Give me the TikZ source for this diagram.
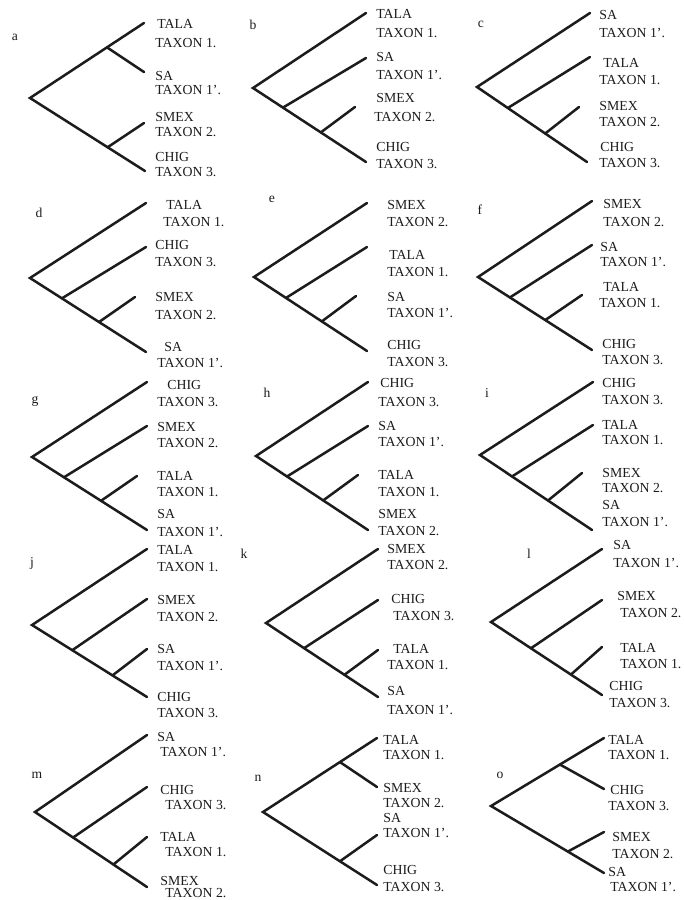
\documentclass[tikz,border=0pt]{standalone}
\usepackage{fontspec}
\setmainfont{Liberation Serif}
\usetikzlibrary{calc}
\definecolor{ink}{RGB}{28,28,28}
\newcommand\lab[4]{\node[tl] (#1) at (#2,#3) {#4};}
\begin{document}
\begin{tikzpicture}[x=0.5pt,y=-0.5pt,
  br/.style={draw=ink,line width=1.25pt,line cap=round},
  tl/.style={anchor=west,inner sep=0pt,text=ink,font=\fontsize{6.9}{7.5}\selectfont,text height=4.5pt,text depth=0pt},
  pl/.style={inner sep=0pt,text=ink,font=\fontsize{6.8}{7.5}\selectfont}]
\useasboundingbox (0,0) rectangle (684,900);
\clip (0,0) rectangle (684,900);
\fill[white] (0,0) rectangle (684,900);
% ---------- tree coordinates ----------
% a
\coordinate (aR) at (30,98);  \coordinate (aT1) at (144,23); \coordinate (aT2) at (144,72);
\coordinate (aT3) at (144,123); \coordinate (aT4) at (145,171);
\coordinate (aN1) at ($(aR)!0.675!(aT1)$); \coordinate (aN2) at ($(aR)!0.675!(aT4)$);
% b
\coordinate (bR) at (253,88); \coordinate (bT1) at (366,13); \coordinate (bT2) at (366,58);
\coordinate (bT3) at (355,107); \coordinate (bT4) at (366,162);
\coordinate (bN1) at ($(bR)!0.265!(bT4)$); \coordinate (bN2) at ($(bR)!0.60!(bT4)$);
% c
\coordinate (cR) at (477,87); \coordinate (cT1) at (590,13); \coordinate (cT2) at (590,57);
\coordinate (cT3) at (579,107); \coordinate (cT4) at (587,162);
\coordinate (cN1) at ($(cR)!0.28!(cT4)$); \coordinate (cN2) at ($(cR)!0.62!(cT4)$);
% d
\coordinate (dR) at (30,278); \coordinate (dT1) at (146,203); \coordinate (dT2) at (146,247);
\coordinate (dT3) at (135,297); \coordinate (dT4) at (146,352);
\coordinate (dN1) at ($(dR)!0.275!(dT4)$); \coordinate (dN2) at ($(dR)!0.595!(dT4)$);
% e
\coordinate (eR) at (254,277); \coordinate (eT1) at (367,203); \coordinate (eT2) at (367,247);
\coordinate (eT3) at (356,296); \coordinate (eT4) at (367,351);
\coordinate (eN1) at ($(eR)!0.283!(eT4)$); \coordinate (eN2) at ($(eR)!0.60!(eT4)$);
% f
\coordinate (fR) at (478,277); \coordinate (fT1) at (592,201); \coordinate (fT2) at (592,245);
\coordinate (fT3) at (582,295); \coordinate (fT4) at (592,350);
\coordinate (fN1) at ($(fR)!0.28!(fT4)$); \coordinate (fN2) at ($(fR)!0.59!(fT4)$);
% g
\coordinate (gR) at (32,457); \coordinate (gT1) at (147,382); \coordinate (gT2) at (147,426);
\coordinate (gT3) at (137,476); \coordinate (gT4) at (147,530);
\coordinate (gN1) at ($(gR)!0.278!(gT4)$); \coordinate (gN2) at ($(gR)!0.60!(gT4)$);
% h
\coordinate (hR) at (256,456); \coordinate (hT1) at (368,382); \coordinate (hT2) at (368,426);
\coordinate (hT3) at (358,475); \coordinate (hT4) at (368,530);
\coordinate (hN1) at ($(hR)!0.277!(hT4)$); \coordinate (hN2) at ($(hR)!0.60!(hT4)$);
% i
\coordinate (iR) at (480,455); \coordinate (iT1) at (593,382); \coordinate (iT2) at (593,425);
\coordinate (iT3) at (582,473); \coordinate (iT4) at (592,530);
\coordinate (iN1) at ($(iR)!0.286!(iT4)$); \coordinate (iN2) at ($(iR)!0.607!(iT4)$);
% j
\coordinate (jR) at (32,625); \coordinate (jT1) at (147,549); \coordinate (jT2) at (147,599);
\coordinate (jT3) at (147,649); \coordinate (jT4) at (147,697);
\coordinate (jN1) at ($(jR)!0.35!(jT4)$); \coordinate (jN2) at ($(jR)!0.70!(jT4)$);
% k
\coordinate (kR) at (266,623); \coordinate (kT1) at (378,549); \coordinate (kT2) at (378,600);
\coordinate (kT3) at (378,650); \coordinate (kT4) at (378,697);
\coordinate (kN1) at ($(kR)!0.34!(kT4)$); \coordinate (kN2) at ($(kR)!0.70!(kT4)$);
% l
\coordinate (lR) at (491,622); \coordinate (lT1) at (602,549); \coordinate (lT2) at (602,600);
\coordinate (lT3) at (602,647); \coordinate (lT4) at (602,695);
\coordinate (lN1) at ($(lR)!0.36!(lT4)$); \coordinate (lN2) at ($(lR)!0.72!(lT4)$);
% m
\coordinate (mR) at (35,812); \coordinate (mT1) at (147,735); \coordinate (mT2) at (147,787);
\coordinate (mT3) at (147,837); \coordinate (mT4) at (147,887);
\coordinate (mN1) at ($(mR)!0.34!(mT4)$); \coordinate (mN2) at ($(mR)!0.70!(mT4)$);
% n
\coordinate (nR) at (263,812); \coordinate (nT1) at (377,738); \coordinate (nT2) at (377,787);
\coordinate (nT3) at (377,835); \coordinate (nT4) at (377,885);
\coordinate (nN1) at ($(nR)!0.675!(nT1)$); \coordinate (nN2) at ($(nR)!0.675!(nT4)$);
% o
\coordinate (oR) at (491,806); \coordinate (oT1) at (604,738); \coordinate (oT2) at (604,789);
\coordinate (oT3) at (604,832); \coordinate (oT4) at (604,873);
\coordinate (oN1) at ($(oR)!0.61!(oT1)$); \coordinate (oN2) at ($(oR)!0.68!(oT4)$);
% ---------- branches ----------
\foreach \q in {a,b,c,d,e,f,g,h,i,j,k,l,m,n,o}{
  \draw[br] (\q T1) -- (\q R) -- (\q T4);
  \draw[br] (\q N1) -- (\q T2);
  \draw[br] (\q N2) -- (\q T3);
}
% ---------- panel letters ----------
\node[pl] (pa) at (15,37) {a};
\node[pl] (pb) at (253,25) {b};
\node[pl] (pc) at (481,24) {c};
\node[pl] (pd) at (39,213) {d};
\node[pl] (pe) at (272,199) {e};
\node[pl] (pf) at (480,210) {f};
\node[pl] (pg) at (35,401) {g};
\node[pl] (ph) at (267,393) {h};
\node[pl] (pi) at (487,393) {i};
\node[pl] (pj) at (32,563) {j};
\node[pl] (pk) at (244,554) {k};
\node[pl] (plx) at (529,554) {l};
\node[pl] (pm) at (37,775) {m};
\node[pl] (pn) at (258,778) {n};
\node[pl] (po) at (500,775) {o};
% ---------- labels ----------
% a
\lab{a1}{157}{24}{TALA}   \lab{a1b}{155}{43}{TAXON 1.}
\lab{a2}{155}{76}{SA}     \lab{a2b}{155}{90}{TAXON 1'.}
\lab{a3}{155}{117}{SMEX}  \lab{a3b}{155}{132}{TAXON 2.}
\lab{a4}{155}{157}{CHIG}  \lab{a4b}{155}{172}{TAXON 3.}
% b
\lab{b1}{376}{14}{TALA}   \lab{b1b}{376}{33}{TAXON 1.}
\lab{b2}{376}{57}{SA}     \lab{b2b}{376}{75}{TAXON 1'.}
\lab{b3}{376}{98}{SMEX}   \lab{b3b}{374}{117}{TAXON 2.}
\lab{b4}{376}{147}{CHIG}  \lab{b4b}{376}{164}{TAXON 3.}
% c
\lab{c1}{599}{15}{SA}     \lab{c1b}{599}{33}{TAXON 1'.}
\lab{c2}{603}{63}{TALA}   \lab{c2b}{599}{80}{TAXON 1.}
\lab{c3}{599}{106}{SMEX}  \lab{c3b}{599}{122}{TAXON 2.}
\lab{c4}{600}{147}{CHIG}  \lab{c4b}{599}{163}{TAXON 3.}
% d
\lab{d1}{166}{205}{TALA}  \lab{d1b}{163}{222}{TAXON 1.}
\lab{d2}{155}{245}{CHIG}  \lab{d2b}{155}{262}{TAXON 3.}
\lab{d3}{155}{297}{SMEX}  \lab{d3b}{155}{315}{TAXON 2.}
\lab{d4}{164}{347}{SA}    \lab{d4b}{157}{363}{TAXON 1'.}
% e
\lab{e1}{387}{205}{SMEX}  \lab{e1b}{387}{222}{TAXON 2.}
\lab{e2}{389}{255}{TALA}  \lab{e2b}{387}{272}{TAXON 1.}
\lab{e3}{387}{297}{SA}    \lab{e3b}{387}{313}{TAXON 1'.}
\lab{e4}{387}{345}{CHIG}  \lab{e4b}{387}{362}{TAXON 3.}
% f
\lab{f1}{603}{204}{SMEX}  \lab{f1b}{603}{222}{TAXON 2.}
\lab{f2}{600}{247}{SA}    \lab{f2b}{600}{262}{TAXON 1'.}
\lab{f3}{603}{287}{TALA}  \lab{f3b}{599}{303}{TAXON 1.}
\lab{f4}{602}{344}{CHIG}  \lab{f4b}{602}{360}{TAXON 3.}
% g
\lab{g1}{167}{385}{CHIG}  \lab{g1b}{157}{402}{TAXON 3.}
\lab{g2}{157}{427}{SMEX}  \lab{g2b}{157}{443}{TAXON 2.}
\lab{g3}{157}{476}{TALA}  \lab{g3b}{157}{492}{TAXON 1.}
\lab{g4}{157}{514}{SA}    \lab{g4b}{157}{532}{TAXON 1'.}
% h
\lab{h1}{380}{383}{CHIG}  \lab{h1b}{378}{402}{TAXON 3.}
\lab{h2}{378}{426}{SA}    \lab{h2b}{378}{442}{TAXON 1'.}
\lab{h3}{378}{475}{TALA}  \lab{h3b}{378}{492}{TAXON 1.}
\lab{h4}{378}{514}{SMEX}  \lab{h4b}{378}{531}{TAXON 2.}
% i
\lab{i1}{602}{383}{CHIG}  \lab{i1b}{602}{400}{TAXON 3.}
\lab{i2}{602}{425}{TALA}  \lab{i2b}{602}{440}{TAXON 1.}
\lab{i3}{602}{473}{SMEX}  \lab{i3b}{602}{488}{TAXON 2.}
\lab{i4}{602}{505}{SA}    \lab{i4b}{602}{522}{TAXON 1'.}
% j
\lab{j1}{157}{550}{TALA}  \lab{j1b}{157}{567}{TAXON 1.}
\lab{j2}{157}{600}{SMEX}  \lab{j2b}{157}{617}{TAXON 2.}
\lab{j3}{157}{649}{SA}    \lab{j3b}{157}{666}{TAXON 1'.}
\lab{j4}{157}{697}{CHIG}  \lab{j4b}{157}{713}{TAXON 3.}
% k
\lab{k1}{387}{549}{SMEX}  \lab{k1b}{387}{565}{TAXON 2.}
\lab{k2}{391}{599}{CHIG}  \lab{k2b}{393}{616}{TAXON 3.}
\lab{k3}{393}{649}{TALA}  \lab{k3b}{387}{665}{TAXON 1.}
\lab{k4}{387}{691}{SA}    \lab{k4b}{387}{710}{TAXON 1'.}
% l
\lab{l1}{613}{545}{SA}    \lab{l1b}{613}{563}{TAXON 1'.}
\lab{l2}{617}{596}{SMEX}  \lab{l2b}{620}{613}{TAXON 2.}
\lab{l3}{620}{648}{TALA}  \lab{l3b}{620}{664}{TAXON 1.}
\lab{l4}{609}{686}{CHIG}  \lab{l4b}{609}{703}{TAXON 3.}
% m
\lab{m1}{157}{737}{SA}    \lab{m1b}{160}{752}{TAXON 1'.}
\lab{m2}{160}{790}{CHIG}  \lab{m2b}{165}{805}{TAXON 3.}
\lab{m3}{160}{837}{TALA}  \lab{m3b}{165}{852}{TAXON 1.}
\lab{m4}{160}{881}{SMEX}  \lab{m4b}{165}{893}{TAXON 2.}
% n
\lab{n1}{383}{740}{TALA}  \lab{n1b}{383}{755}{TAXON 1.}
\lab{n2}{383}{788}{SMEX}  \lab{n2b}{383}{803}{TAXON 2.}
\lab{n3}{383}{818}{SA}    \lab{n3b}{383}{833}{TAXON 1'.}
\lab{n4}{383}{870}{CHIG}  \lab{n4b}{383}{887}{TAXON 3.}
% o
\lab{o1}{608}{740}{TALA}  \lab{o1b}{608}{755}{TAXON 1.}
\lab{o2}{610}{790}{CHIG}  \lab{o2b}{608}{806}{TAXON 3.}
\lab{o3}{612}{837}{SMEX}  \lab{o3b}{612}{854}{TAXON 2.}
\lab{o4}{608}{872}{SA}    \lab{o4b}{610}{887}{TAXON 1'.}
\end{tikzpicture}
\end{document}
